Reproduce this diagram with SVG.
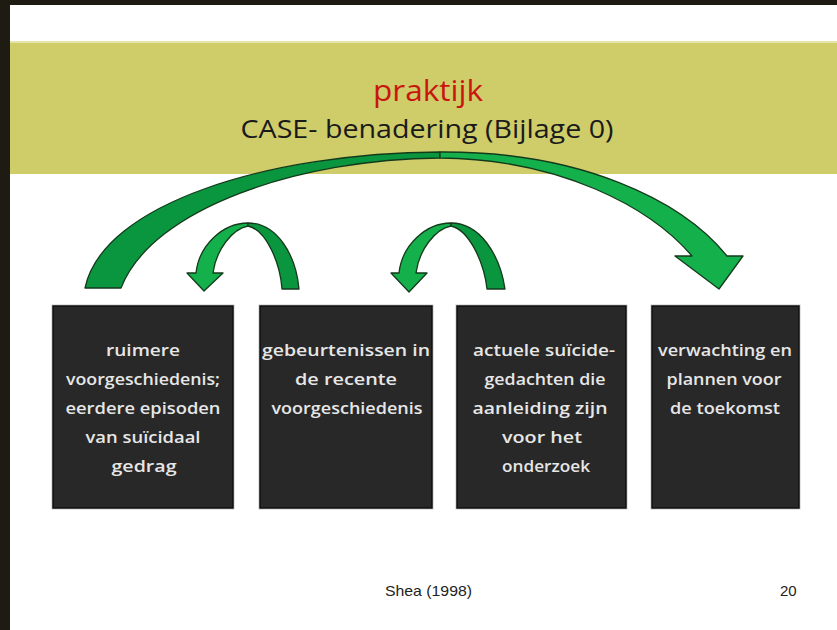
<svg xmlns="http://www.w3.org/2000/svg" width="837" height="630" viewBox="0 0 837 630">
<style>
.box{fill:#282828;stroke:#0e0e0e;stroke-width:1.5}
.boxo{fill:none;stroke:#c8c8c8;stroke-width:1}
.bt{font-family:"Open Sans","DejaVu Sans",sans-serif;font-size:17px;font-weight:600;fill:#e6e6e6;text-anchor:middle}
.arr{stroke:#143a1c;stroke-width:1.3;stroke-linejoin:round}
.lite{fill:#14b04b}
.dark{fill:#0a963f}
.ft{font-family:"Liberation Sans",Arial,sans-serif;font-size:15px;fill:#222}
</style>
<rect x="0" y="0" width="837" height="630" fill="#ffffff"/>
<rect x="0" y="0" width="837" height="5" fill="#1e1b12"/>
<rect x="0" y="0" width="10" height="630" fill="#1e1b12"/>
<rect x="10" y="42" width="827" height="132" fill="#cfcc6a"/>
<rect x="10" y="41" width="827" height="2" fill="#e6e4a8"/>
<g id="title">
<text x="428" y="101" text-anchor="middle" font-family="Open Sans,DejaVu Sans,sans-serif" font-size="29" fill="#c8160e" textLength="110" lengthAdjust="spacingAndGlyphs">praktijk</text>
<text x="427" y="138" text-anchor="middle" font-family="Open Sans,DejaVu Sans,sans-serif" font-size="25" fill="#1a1a1a" textLength="373" lengthAdjust="spacingAndGlyphs">CASE- benadering (Bijlage 0)</text>
</g>
<g id="connectors">
<g id="big-arrow">
<path class="arr dark" d="M85,288 C103,203 270,153 440,152 L440,158 C300,159 152,208 121,288 Z"/>
<path class="arr lite" d="M440,152 C580,151 682,200 727,256 L743,256 L719,289 L675,256 L692,256 C650,207 560,159 440,158 Z"/>
</g>
<g id="loop-1">
<path class="arr lite" d="M248,223 C223,223 199,245 196,273 L187,273 L204,291 L223,273 L213,273 C216,250 232,229 248,226 Z"/>
<path class="arr dark" d="M248,223 C277,223 296,255 299,289 L282,289 C280,262 266,230 248,226 Z"/>
</g>
<g id="loop-2" transform="translate(203,0)">
<path class="arr lite" d="M248,223 C223,223 199,245 196,273 L188,273 L206,292 L224,273 L213,273 C216,250 232,229 248,226 Z"/>
<path class="arr dark" d="M248,223 C277,223 297,255 302,289 L284,289 C281,262 266,230 248,226 Z"/>
</g>
</g>
<g id="node-1">
<rect class="boxo" x="52" y="305" width="182" height="204"/>
<rect class="box" x="53" y="306" width="180" height="202"/>
<text class="bt" x="143" y="356" textLength="74" lengthAdjust="spacingAndGlyphs">ruimere</text>
<text class="bt" x="143" y="385" textLength="154" lengthAdjust="spacingAndGlyphs">voorgeschiedenis;</text>
<text class="bt" x="143" y="414" textLength="155" lengthAdjust="spacingAndGlyphs">eerdere episoden</text>
<text class="bt" x="143" y="443" textLength="115" lengthAdjust="spacingAndGlyphs">van suïcidaal</text>
<text class="bt" x="144" y="472" textLength="65" lengthAdjust="spacingAndGlyphs">gedrag</text>
</g>
<g id="node-2">
<rect class="boxo" x="259" y="305" width="174" height="204"/>
<rect class="box" x="260" y="306" width="172" height="202"/>
<text class="bt" x="346" y="356" textLength="168" lengthAdjust="spacingAndGlyphs">gebeurtenissen in</text>
<text class="bt" x="346" y="385" textLength="102" lengthAdjust="spacingAndGlyphs">de recente</text>
<text class="bt" x="347" y="414" textLength="151" lengthAdjust="spacingAndGlyphs">voorgeschiedenis</text>
</g>
<g id="node-3">
<rect class="boxo" x="456" y="305" width="171" height="204"/>
<rect class="box" x="457" y="306" width="169" height="202"/>
<text class="bt" x="544" y="356" textLength="142" lengthAdjust="spacingAndGlyphs">actuele suïcide-</text>
<text class="bt" x="545" y="385" textLength="121" lengthAdjust="spacingAndGlyphs">gedachten die</text>
<text class="bt" x="540" y="414" textLength="135" lengthAdjust="spacingAndGlyphs">aanleiding zijn</text>
<text class="bt" x="542" y="443" textLength="80" lengthAdjust="spacingAndGlyphs">voor het</text>
<text class="bt" x="546" y="472" textLength="88" lengthAdjust="spacingAndGlyphs">onderzoek</text>
</g>
<g id="node-4">
<rect class="boxo" x="651" y="305" width="149" height="204"/>
<rect class="box" x="652" y="306" width="147" height="202"/>
<text class="bt" x="725" y="356" textLength="134" lengthAdjust="spacingAndGlyphs">verwachting en</text>
<text class="bt" x="724" y="385" textLength="115" lengthAdjust="spacingAndGlyphs">plannen voor</text>
<text class="bt" x="725" y="414" textLength="110" lengthAdjust="spacingAndGlyphs">de toekomst</text>
</g>
<g id="footer">
<text class="ft" x="385" y="596" textLength="87" lengthAdjust="spacingAndGlyphs">Shea (1998)</text>
<text class="ft" x="780" y="596">20</text>
</g>
</svg>
